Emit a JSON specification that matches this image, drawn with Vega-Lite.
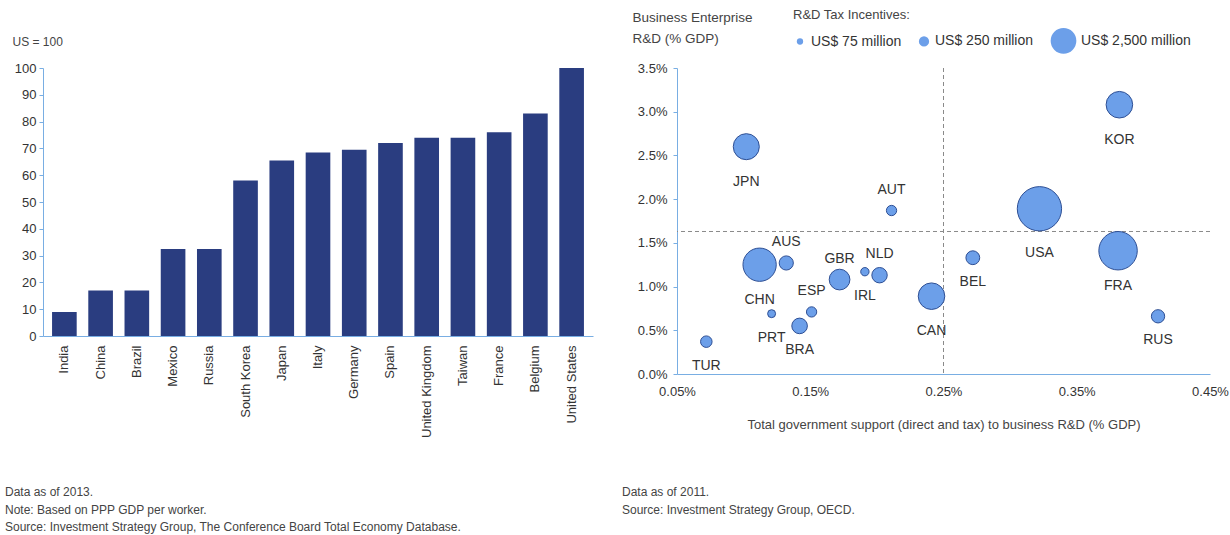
{
  "$schema": "https://vega.github.io/schema/vega-lite/v6.json",
  "background": "white",
  "padding": {"left": 5, "top": 9, "right": 0, "bottom": 0},
  "bounds": "flush",
  "spacing": 84,
  "config": {
    "font": "Liberation Sans",
    "view": {"stroke": null},
    "axis": {
      "grid": false,
      "domainColor": "#79aee3",
      "tickColor": "#79aee3",
      "labelColor": "#333333",
      "titleColor": "#444444",
      "labelFontSize": 13,
      "titleFontWeight": "normal",
      "labelFlush": false
    }
  },
  "hconcat": [
    {
      "width": 550,
      "height": 268,
      "data": {
        "values": [
          {"country": "India", "value": 9},
          {"country": "China", "value": 17},
          {"country": "Brazil", "value": 17},
          {"country": "Mexico", "value": 32.5},
          {"country": "Russia", "value": 32.5},
          {"country": "South Korea", "value": 58},
          {"country": "Japan", "value": 65.5},
          {"country": "Italy", "value": 68.5},
          {"country": "Germany", "value": 69.5},
          {"country": "Spain", "value": 72},
          {"country": "United Kingdom", "value": 74},
          {"country": "Taiwan", "value": 74},
          {"country": "France", "value": 76},
          {"country": "Belgium", "value": 83},
          {"country": "United States", "value": 100}
        ]
      },
      "title": {
        "text": ["Data as of 2013.", "Note: Based on PPP GDP per worker.", "Source: Investment Strategy Group, The Conference Board Total Economy Database."],
        "orient": "bottom",
        "anchor": "start",
        "frame": "group",
        "dx": -38,
        "offset": 50,
        "fontSize": 12,
        "fontWeight": "normal",
        "color": "#444444",
        "lineHeight": 17.5
      },
      "mark": {"type": "bar", "color": "#2a3d80"},
      "encoding": {
        "x": {
          "field": "country",
          "type": "nominal",
          "sort": null,
          "scale": {"paddingInner": 0.32, "paddingOuter": 0.25},
          "axis": {
            "title": null,
            "labelAngle": -90,
            "labelAlign": "right",
            "labelBaseline": "middle",
            "ticks": false,
            "labelPadding": 9,
            "labelFontSize": 13
          }
        },
        "y": {
          "field": "value",
          "type": "quantitative",
          "scale": {"domain": [0, 100], "nice": false},
          "axis": {
            "values": [0, 10, 20, 30, 40, 50, 60, 70, 80, 90, 100],
            "title": "US = 100",
            "titleAngle": 0,
            "titleAlign": "left",
            "titleBaseline": "middle",
            "titleX": -31,
            "titleY": -27,
            "titleFontSize": 12,
            "tickSize": 4,
            "labelPadding": 3
          }
        }
      }
    },
    {
      "width": 533,
      "height": 306,
      "data": {
        "values": [
          {"code": "JPN", "x": 0.102, "y": 2.60, "tax": 2590, "lab": "below"},
          {"code": "KOR", "x": 0.382, "y": 3.08, "tax": 2720, "lab": "below"},
          {"code": "AUT", "x": 0.211, "y": 1.87, "tax": 253, "lab": "above"},
          {"code": "USA", "x": 0.322, "y": 1.89, "tax": 9760, "lab": "below"},
          {"code": "FRA", "x": 0.381, "y": 1.41, "tax": 6850, "lab": "below"},
          {"code": "CHN", "x": 0.112, "y": 1.25, "tax": 4780, "lab": "below"},
          {"code": "AUS", "x": 0.132, "y": 1.27, "tax": 565, "lab": "above"},
          {"code": "GBR", "x": 0.172, "y": 1.08, "tax": 1460, "lab": "above"},
          {"code": "NLD", "x": 0.202, "y": 1.13, "tax": 697, "lab": "above"},
          {"code": "IRL", "x": 0.191, "y": 1.17, "tax": 150, "lab": "below"},
          {"code": "BEL", "x": 0.272, "y": 1.33, "tax": 530, "lab": "below"},
          {"code": "CAN", "x": 0.241, "y": 0.89, "tax": 2720, "lab": "below"},
          {"code": "ESP", "x": 0.151, "y": 0.71, "tax": 253, "lab": "above"},
          {"code": "PRT", "x": 0.121, "y": 0.69, "tax": 134, "lab": "below"},
          {"code": "BRA", "x": 0.142, "y": 0.55, "tax": 717, "lab": "below"},
          {"code": "TUR", "x": 0.072, "y": 0.37, "tax": 336, "lab": "below"},
          {"code": "RUS", "x": 0.411, "y": 0.66, "tax": 481, "lab": "below"}
        ]
      },
      "title": {
        "text": ["Data as of 2011.", "Source: Investment Strategy Group, OECD."],
        "orient": "bottom",
        "anchor": "start",
        "frame": "group",
        "dx": -55,
        "offset": 56,
        "fontSize": 12,
        "fontWeight": "normal",
        "color": "#444444",
        "lineHeight": 17.5
      },
      "layer": [
        {
          "data": {"values": [{"x": 0.25}]},
          "mark": {"type": "rule", "color": "#8a8a8a", "strokeDash": [4, 3], "strokeWidth": 1},
          "encoding": {"x": {"field": "x", "type": "quantitative"}}
        },
        {
          "data": {"values": [{"y": 1.63}]},
          "mark": {"type": "rule", "color": "#8a8a8a", "strokeDash": [4, 3], "strokeWidth": 1},
          "encoding": {"y": {"field": "y", "type": "quantitative"}}
        },
        {
          "mark": {"type": "circle", "fill": "#6c9fe9", "stroke": "#2e4f94", "strokeWidth": 1, "opacity": 1},
          "encoding": {
            "x": {
              "field": "x",
              "type": "quantitative",
              "scale": {"domain": [0.05, 0.45], "nice": false, "zero": false},
              "axis": {
                "values": [0.05, 0.15, 0.25, 0.35, 0.45],
                "labelExpr": "format(datum.value, '.2f') + '%'",
                "ticks": false,
                "labelPadding": 11,
                "title": "Total government support (direct and tax) to business R&D (% GDP)",
                "titleFontSize": 13,
                "titlePadding": 20
              }
            },
            "y": {
              "field": "y",
              "type": "quantitative",
              "scale": {"domain": [0, 3.5], "nice": false},
              "axis": {
                "values": [0, 0.5, 1, 1.5, 2, 2.5, 3, 3.5],
                "labelExpr": "format(datum.value, '.1f') + '%'",
                "tickSize": 4,
                "labelPadding": 6,
                "title": ["Business Enterprise", "R&D (% GDP)"],
                "titleAngle": 0,
                "titleAlign": "left",
                "titleBaseline": "top",
                "titleX": -45,
                "titleY": -58,
                "titleFontSize": 13.5,
                "titleLineHeight": 21
              }
            },
            "size": {
              "field": "tax",
              "type": "quantitative",
              "scale": {"type": "pow", "exponent": 0.8, "domain": [0, 2500], "range": [0, 660]},
              "legend": {
                "values": [75, 250, 2500],
                "title": "R&D Tax Incentives:",
                "orient": "none",
                "legendX": 750,
                "legendY": -59,
                "direction": "horizontal",
                "titleFontSize": 13,
                "titleFontWeight": "normal",
                "titleColor": "#444444",
                "titlePadding": 5,
                "labelFontSize": 14,
                "labelColor": "#333333",
                "labelOffset": 4,
                "columnPadding": 14,
                "labelExpr": "'US$ ' + (datum.value == 2500 ? '2,500' : datum.value) + ' million'",
                "symbolType": "circle",
                "symbolFillColor": "#6c9fe9",
                "symbolStrokeColor": "#2e4f94",
                "symbolStrokeWidth": 1,
                "symbolOpacity": 1
              }
            }
          }
        },
        {
          "transform": [{"filter": "datum.lab == 'above'"}],
          "mark": {"type": "text", "dy": -21, "fontSize": 14, "color": "#333333"},
          "encoding": {
            "x": {"field": "x", "type": "quantitative"},
            "y": {"field": "y", "type": "quantitative"},
            "text": {"field": "code"}
          }
        },
        {
          "transform": [{"filter": "datum.lab == 'below' && datum.tax < 1000"}],
          "mark": {"type": "text", "dy": 24, "fontSize": 14, "color": "#333333"},
          "encoding": {
            "x": {"field": "x", "type": "quantitative"},
            "y": {"field": "y", "type": "quantitative"},
            "text": {"field": "code"}
          }
        },
        {
          "transform": [{"filter": "datum.lab == 'below' && datum.tax >= 1000 && datum.tax < 9000"}],
          "mark": {"type": "text", "dy": 35, "fontSize": 14, "color": "#333333"},
          "encoding": {
            "x": {"field": "x", "type": "quantitative"},
            "y": {"field": "y", "type": "quantitative"},
            "text": {"field": "code"}
          }
        },
        {
          "transform": [{"filter": "datum.lab == 'below' && datum.tax >= 9000"}],
          "mark": {"type": "text", "dy": 44, "fontSize": 14, "color": "#333333"},
          "encoding": {
            "x": {"field": "x", "type": "quantitative"},
            "y": {"field": "y", "type": "quantitative"},
            "text": {"field": "code"}
          }
        }
      ]
    }
  ]
}
